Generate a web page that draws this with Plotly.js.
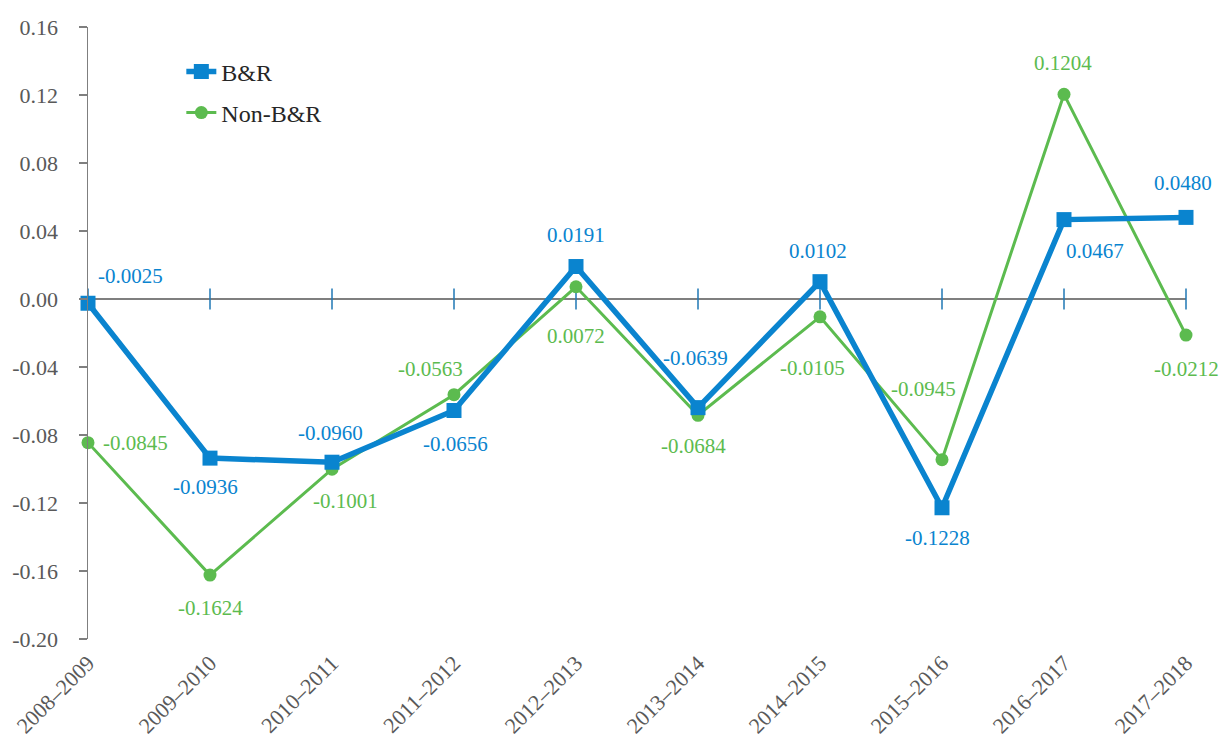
<!DOCTYPE html>
<html>
<head>
<meta charset="utf-8">
<script src="https://cdn.plot.ly/plotly-3.0.1.min.js"></script>
<style>html,body{margin:0;padding:0;background:#fff;}#chart{width:1220px;height:742px;}</style>
</head>
<body>
<div id="chart"></div>
<script>
const periods = ["2008–2009","2009–2010","2010–2011","2011–2012","2012–2013","2013–2014","2014–2015","2015–2016","2016–2017","2017–2018"];
const brValues = [-0.0025,-0.0936,-0.0960,-0.0656,0.0191,-0.0639,0.0102,-0.1228,0.0467,0.0480];
const nonBrValues = [-0.0845,-0.1624,-0.1001,-0.0563,0.0072,-0.0684,-0.0105,-0.0945,0.1204,-0.0212];
const yTicks = [-0.20,-0.16,-0.12,-0.08,-0.04,0.00,0.04,0.08,0.12,0.16];

// label offsets (px) for each data label: [xshift, yshift]
const brLabelShift = [[42,27],[-5,-29],[-2,29],[1,-33],[0,32],[-3,50],[-2,31],[-5,-30],[31,-31],[-3,34]];
const nonBrLabelShift = [[47,0],[0,-33],[13,-32],[-24,26],[0,-49],[-5,-31],[-8,-51],[-19,71],[-1,31],[0,-34]];

const blue = "#0a84cf";
const green = "#5cbb4f";
const axisGrey = "#7f7f7f";
const textGrey = "#595959";
const serif = "Liberation Serif";

const traces = [
  {
    x: periods, y: periods.map(() => 0), mode: "markers", type: "scatter",
    marker: {symbol: "line-ns-open", size: 15, line: {color: axisGrey, width: 1.5}},
    showlegend: false, hoverinfo: "skip", cliponaxis: false
  },
  {
    x: periods, y: nonBrValues, name: "Non-B&R", mode: "lines+markers", type: "scatter",
    line: {color: green, width: 3}, marker: {symbol: "circle", size: 13, color: green},
    cliponaxis: false, legend: "legend2"
  },
  {
    x: periods, y: brValues, name: "B&R", mode: "lines+markers", type: "scatter",
    line: {color: blue, width: 5.5}, marker: {symbol: "square", size: 15, color: blue},
    cliponaxis: false, legend: "legend"
  }
];

const annotations = [];
periods.forEach((p, i) => {
  annotations.push({
    x: p, y: brValues[i], xref: "x", yref: "y", text: brValues[i].toFixed(4),
    showarrow: false, xshift: brLabelShift[i][0], yshift: brLabelShift[i][1],
    font: {family: serif, size: 21, color: blue}
  });
  annotations.push({
    x: p, y: nonBrValues[i], xref: "x", yref: "y", text: nonBrValues[i].toFixed(4),
    showarrow: false, xshift: nonBrLabelShift[i][0], yshift: nonBrLabelShift[i][1],
    font: {family: serif, size: 21, color: green}
  });
});

const layout = {
  width: 1220, height: 742,
  margin: {l: 88, r: 34, t: 27, b: 103},
  paper_bgcolor: "#ffffff", plot_bgcolor: "#ffffff",
  font: {family: serif, size: 20, color: textGrey},
  showlegend: true,
  legend: {
    x: 0.085, y: 0.9265, xanchor: "left", yanchor: "middle",
    bgcolor: "rgba(0,0,0,0)", font: {family: serif, size: 24, color: "#262626"}
  },
  legend2: {
    x: 0.085, y: 0.8595, xanchor: "left", yanchor: "middle",
    bgcolor: "rgba(0,0,0,0)", font: {family: serif, size: 24, color: "#262626"}
  },
  xaxis: {
    type: "category", range: [0, periods.length - 1],
    showline: false, showgrid: false, zeroline: false, ticks: "",
    tickangle: -45, ticklabelstandoff: 6,
    tickfont: {family: serif, size: 22, color: textGrey},
    automargin: false
  },
  yaxis: {
    range: [-0.20, 0.16], tickvals: yTicks, ticktext: yTicks.map(v => v.toFixed(2)),
    showline: true, linecolor: axisGrey, linewidth: 1.5,
    ticks: "outside", ticklen: 8, tickcolor: axisGrey, tickwidth: 1.5,
    ticklabelstandoff: 16,
    showgrid: false, zeroline: true, zerolinecolor: axisGrey, zerolinewidth: 1.5,
    tickfont: {family: serif, size: 22, color: textGrey},
    automargin: false
  },
  annotations: annotations
};

Plotly.newPlot("chart", traces, layout, {displayModeBar: false, staticPlot: true});
</script>
</body>
</html>
